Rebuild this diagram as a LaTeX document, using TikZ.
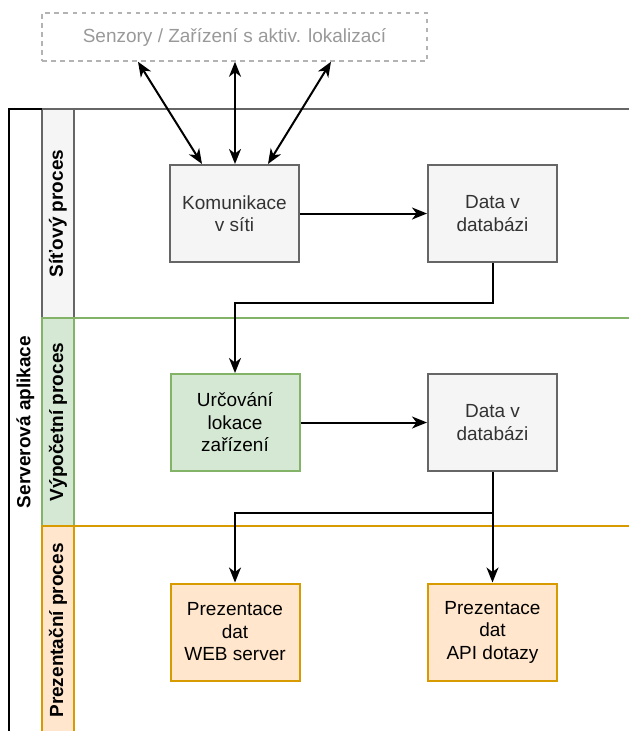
\documentclass[tikz,border=0pt]{standalone}
\usepackage{fontspec}
\setmainfont{Liberation Sans}
\usetikzlibrary{arrows.meta,calc}
\definecolor{grayfill}{HTML}{F5F5F5}
\definecolor{graystroke}{HTML}{666666}
\definecolor{greenfill}{HTML}{D5E8D4}
\definecolor{greenstroke}{HTML}{82B366}
\definecolor{orangefill}{HTML}{FFE6CC}
\definecolor{orangestroke}{HTML}{D79B00}
\definecolor{boxtext}{HTML}{333333}
\definecolor{dashstroke}{HTML}{B3B3B3}
\definecolor{dashtext}{HTML}{999999}
\tikzset{
  every node/.style={font=\fontsize{19}{22.5}\selectfont},
  procbox/.style={draw, line width=2pt, minimum width=129pt, minimum height=97pt, align=center, inner sep=0pt},
  graybox/.style={procbox, draw=graystroke, fill=grayfill, text=boxtext},
  greenbox/.style={procbox, draw=greenstroke, fill=greenfill, text=black},
  orangebox/.style={procbox, draw=orangestroke, fill=orangefill, text=black},
  lanehdr/.style={line width=2pt},
  lanelabel/.style={rotate=90, font=\fontsize{19}{22.5}\selectfont\bfseries},
  flow/.style={line width=2pt, -{Stealth[length=15pt,width=12pt,inset=4.5pt]}},
  biflow/.style={line width=2pt, {Stealth[length=15pt,width=12pt,inset=4.5pt]}-{Stealth[length=15pt,width=12pt,inset=4.5pt]}},
}
\begin{document}
\begin{tikzpicture}[x=1pt,y=-1pt]
\useasboundingbox (0,0) rectangle (629,731);
% lanes
\draw[lanehdr, draw=graystroke] (74,109) rectangle (660,318);
\draw[lanehdr, draw=graystroke, fill=grayfill] (42,109) rectangle (74,318);
\draw[lanehdr, draw=greenstroke] (74,318) rectangle (660,526);
\draw[lanehdr, draw=greenstroke, fill=greenfill] (42,318) rectangle (74,526);
\draw[lanehdr, draw=orangestroke] (74,526) rectangle (660,735);
\draw[lanehdr, draw=orangestroke, fill=orangefill] (42,526) rectangle (74,735);
% pool header
\draw[line width=2pt, draw=black] (42,109) -- (9,109) -- (9,760);
\node[lanelabel] (pool) at (25.5,422) {Serverová aplikace};
\node[lanelabel] (l1) at (58,213.5) {Síťový proces};
\node[lanelabel] (l2) at (58,422) {Výpočetní proces};
\node[lanelabel] (l3) at (58,630.5) {Prezentační proces};
% top box
\node[draw=dashstroke, dash pattern=on 4.5pt off 4.5pt, line width=1.5pt, minimum width=385pt, minimum height=48pt, text=dashtext, inner sep=0pt] (top) at (234.5,37) {Senzory / Zařízení s aktiv. lokalizací};
% boxes
\node[graybox] (kom) at (234.5,213.5) {Komunikace\\v síti};
\node[graybox] (d1) at (492.5,213.5) {Data v\\databázi};
\node[greenbox] (urc) at (235,422.5) {Určování\\lokace\\zařízení};
\node[graybox] (d2) at (492.5,422.5) {Data v\\databázi};
\node[orangebox] (web) at (235,632) {Prezentace\\dat\\WEB server};
\node[orangebox] (api) at (492.5,632) {Prezentace\\dat\\API dotazy};
% connector end points
\coordinate (t1) at ([xshift=-96.5pt]top.south);
\coordinate (t2) at ([xshift=0.5pt]top.south);
\coordinate (t3) at ([xshift=96.5pt]top.south);
\coordinate (k1) at ([xshift=-32.5pt]kom.north);
\coordinate (k2) at ([xshift=0.5pt]kom.north);
\coordinate (k3) at ([xshift=33.5pt]kom.north);
\draw[biflow] (t1) -- (k1);
\draw[biflow] (t2) -- (k2);
\draw[biflow] (t3) -- (k3);
\draw[flow] (kom) -- (d1);
\draw[flow] (d1.south) -- ++(0,40) -| (urc.north);
\draw[flow] (urc) -- (d2);
\draw[flow] (d2.south) -- ++(0,41) -| (web.north);
\draw[flow] (d2.south) -- (api.north);
\end{tikzpicture}
\end{document}
